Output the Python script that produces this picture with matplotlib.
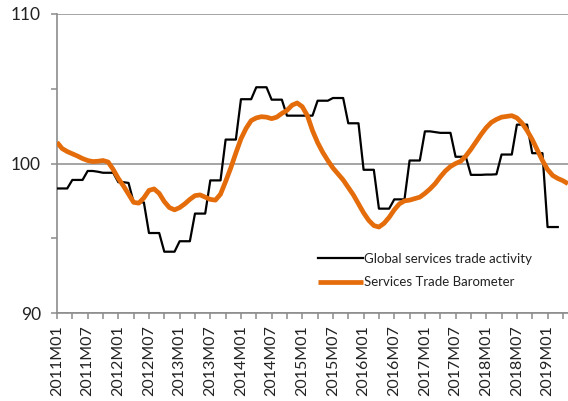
import matplotlib
matplotlib.use("Agg")
import matplotlib.pyplot as plt
from matplotlib.ticker import FixedLocator, MultipleLocator

# ---- data ----
tick_labels = ["2011M01", "2011M07", "2012M01", "2012M07", "2013M01", "2013M07",
               "2014M01", "2014M07", "2015M01", "2015M07", "2016M01", "2016M07",
               "2017M01", "2017M07", "2018M01", "2018M07", "2019M01"]

# Global services trade activity (monthly, quarterly values held 3 months), 2011M01..2019M03
activity = [98.33, 98.33, 98.33, 98.9, 98.9, 98.9, 99.5, 99.5, 99.45, 99.38, 99.38, 99.38,
            98.75, 98.75, 98.7, 97.4, 97.4, 97.4, 95.35, 95.35, 95.35, 94.1, 94.1, 94.1,
            94.8, 94.8, 94.8, 96.65, 96.65, 96.65, 98.87, 98.87, 98.87, 101.6, 101.6, 101.6,
            104.3, 104.3, 104.3, 105.1, 105.1, 105.1, 104.27, 104.27, 104.27, 103.2, 103.2, 103.2,
            103.2, 103.2, 103.2, 104.2, 104.2, 104.2, 104.38, 104.38, 104.38, 102.69, 102.69, 102.69,
            99.58, 99.58, 99.58, 96.98, 96.98, 96.98, 97.6, 97.6, 97.6, 100.2, 100.2, 100.2,
            102.15, 102.15, 102.1, 102.05, 102.05, 102.05, 100.45, 100.45, 100.45, 99.24, 99.24, 99.24,
            99.26, 99.26, 99.28, 100.6, 100.6, 100.6, 102.6, 102.6, 102.6, 100.69, 100.69, 100.69,
            95.75, 95.75, 95.75]

# Services Trade Barometer (monthly), 2011M01..2019M05
barometer = [101.42, 101.0, 100.8, 100.65, 100.5, 100.33, 100.2, 100.13, 100.15, 100.2, 100.1, 99.6,
             99.0, 98.5, 97.95, 97.4, 97.35, 97.7, 98.2, 98.3, 98.0, 97.45, 97.05, 96.9,
             97.05, 97.3, 97.6, 97.85, 97.9, 97.75, 97.6, 97.55, 97.95, 98.8, 99.7, 100.7,
             101.65, 102.35, 102.87, 103.05, 103.13, 103.1, 103.0, 103.1, 103.35, 103.55, 103.9, 104.05,
             103.8, 103.2, 102.2, 101.4, 100.75, 100.2, 99.7, 99.3, 98.9, 98.4, 97.9, 97.3,
             96.7, 96.2, 95.85, 95.75, 96.0, 96.4, 96.9, 97.3, 97.5, 97.55, 97.65, 97.75,
             98.0, 98.3, 98.65, 99.1, 99.5, 99.8, 100.0, 100.15, 100.5, 100.95, 101.45, 101.95,
             102.4, 102.75, 102.95, 103.1, 103.15, 103.2, 103.05, 102.7, 102.2, 101.6, 100.9, 100.2,
             99.6, 99.2, 99.0, 98.85, 98.65]

series_names = ["Global services trade activity", "Services Trade Barometer"]

# ---- plot ----
plt.rcParams['font.family'] = ['Lato', 'DejaVu Sans']

fig = plt.figure(figsize=(5.68, 4.01), dpi=100)
ax = fig.add_axes([57/568, 1-313/401, (568-57)/568, (313-14)/401])

x_act = list(range(len(activity)))
x_bar = list(range(len(barometer)))
ax.plot(x_act, activity, color='black', lw=1.6, label=series_names[0], zorder=3)
ax.plot(x_bar, barometer, color='#E46C0A', lw=3.4, label=series_names[1], zorder=4,
        solid_capstyle='butt')

ax.set_xlim(0, 100)
ax.set_ylim(90, 110)

grey = '#8c8c8c'
for s in ['top', 'right']:
    ax.spines[s].set_visible(False)
for s in ['left', 'bottom']:
    ax.spines[s].set_color(grey)
    ax.spines[s].set_linewidth(1.2)

ax.yaxis.set_major_locator(FixedLocator([90, 100, 110]))
ax.yaxis.set_minor_locator(FixedLocator([95, 105]))
ax.set_yticklabels(['90', '100', '110'])
ax.grid(axis='y', which='major', color=grey, lw=1.1, zorder=1)
ax.set_axisbelow(True)

ax.xaxis.set_major_locator(FixedLocator([6*i for i in range(len(tick_labels))]))
ax.xaxis.set_minor_locator(FixedLocator([3 + 6*i for i in range(len(tick_labels))]))
ax.set_xticklabels(tick_labels, rotation=90)

ax.tick_params(axis='both', which='both', direction='out', color=grey, width=1.1, length=4.5)
ax.tick_params(axis='y', labelsize=12.5, pad=7, labelcolor='#222222')
ax.tick_params(axis='x', labelsize=11.5, pad=4, labelcolor='#222222')

leg = ax.legend(loc='upper left', bbox_to_anchor=(318/568, 1-253/401), bbox_transform=fig.transFigure,
                frameon=False, handlelength=3.4, handletextpad=0.05, fontsize=9.5,
                labelspacing=0.85, borderaxespad=0, borderpad=0)
for t in leg.get_texts():
    t.set_color('#222222')

fig.savefig('out.png', dpi=100)
